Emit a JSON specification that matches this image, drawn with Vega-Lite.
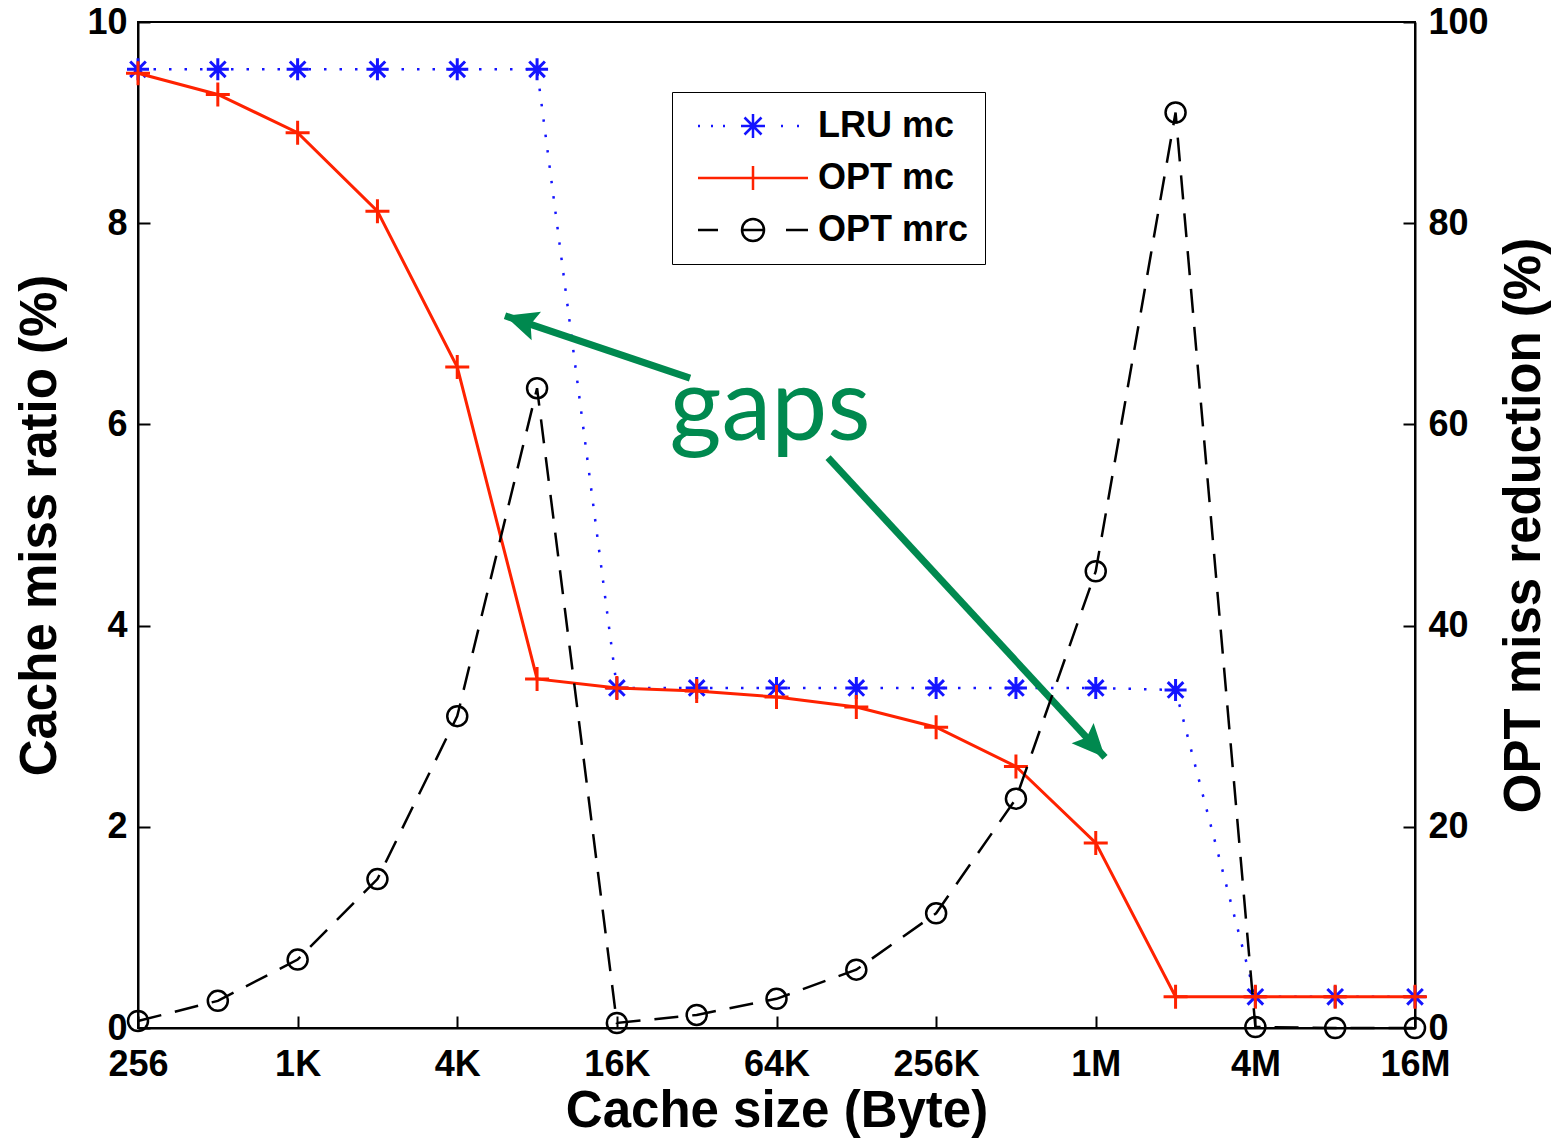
{
  "$schema": "https://vega.github.io/schema/vega-lite/v6.json",
  "width": 1277,
  "height": 1006,
  "autosize": {"type": "none"},
  "padding": {"left": 138, "top": 22, "right": 138, "bottom": 111},
  "background": "white",
  "config": {
    "view": {"stroke": "#000", "strokeWidth": 2},
    "font": "Liberation Sans",
    "axis": {
      "domainColor": "#000", "domainWidth": 2,
      "tickColor": "#000", "tickWidth": 2, "tickSize": -12,
      "labelFont": "Liberation Sans", "labelFontWeight": "bold", "labelFontSize": 36, "labelColor": "#000",
      "titleFont": "Liberation Sans", "titleFontWeight": "bold", "titleFontSize": 51, "titleColor": "#000",
      "grid": false
    }
  },
  "datasets": {
    "curves": [
      {"size": 256, "lru": 9.53, "opt": 9.49, "mrc": 0.7},
      {"size": 512, "lru": 9.53, "opt": 9.28, "mrc": 2.7},
      {"size": 1024, "lru": 9.53, "opt": 8.9, "mrc": 6.8},
      {"size": 2048, "lru": 9.53, "opt": 8.12, "mrc": 14.8},
      {"size": 4096, "lru": 9.53, "opt": 6.57, "mrc": 31.0},
      {"size": 8192, "lru": 9.53, "opt": 3.47, "mrc": 63.6},
      {"size": 16384, "lru": 3.38, "opt": 3.38, "mrc": 0.5},
      {"size": 32768, "lru": 3.38, "opt": 3.35, "mrc": 1.3},
      {"size": 65536, "lru": 3.38, "opt": 3.29, "mrc": 2.9},
      {"size": 131072, "lru": 3.38, "opt": 3.19, "mrc": 5.8},
      {"size": 262144, "lru": 3.38, "opt": 2.99, "mrc": 11.4},
      {"size": 524288, "lru": 3.38, "opt": 2.6, "mrc": 22.8},
      {"size": 1048576, "lru": 3.38, "opt": 1.84, "mrc": 45.4},
      {"size": 2097152, "lru": 3.36, "opt": 0.31, "mrc": 91.0},
      {"size": 4194304, "lru": 0.31, "opt": 0.31, "mrc": 0.1},
      {"size": 8388608, "lru": 0.31, "opt": 0.31, "mrc": 0},
      {"size": 16777216, "lru": 0.31, "opt": 0.31, "mrc": 0}
    ],
    "arrows": [
      {"id": "a", "xs": 30925, "ys": 6.46, "xe": 6200, "ye": 7.08},
      {"id": "b", "xs": 102550, "ys": 5.67, "xe": 1136400, "ye": 2.69}
    ],
    "notes": [
      {"label": "gaps", "xs": 61960, "ys": 5.845}
    ],
    "keys": [
      {"series": "LRU mc"},
      {"series": "OPT mc"},
      {"series": "OPT mrc"}
    ]
  },
  "encoding": {
    "x": {
      "field": "size", "type": "quantitative",
      "scale": {"type": "log", "base": 2, "domain": [256, 16777216], "nice": false},
      "axis": {
        "values": [256, 1024, 4096, 16384, 65536, 262144, 1048576, 4194304, 16777216],
        "labelExpr": "datum.value >= 1048576 ? (datum.value/1048576) + 'M' : datum.value >= 1024 ? (datum.value/1024) + 'K' : '' + datum.value",
        "labelFlush": false, "labelOverlap": false, "labelPadding": 31, "titlePadding": 4
      },
      "title": "Cache size (Byte)"
    }
  },
  "layer": [
    {
      "encoding": {
        "y": {"type": "quantitative",
          "scale": {"domain": [0, 10], "nice": false},
          "axis": {"values": [0, 2, 4, 6, 8, 10], "labelPadding": 23, "titlePadding": 20},
          "title": "Cache miss ratio (%)"}
      },
      "layer": [
        {
          "data": {"name": "curves"},
          "mark": {"type": "line", "color": "#1414ff", "strokeWidth": 2.5, "strokeDash": [2.5, 13]},
          "encoding": {"y": {"field": "lru"}}
        },
        {
          "data": {"name": "curves"},
          "mark": {"type": "point", "shape": "M-1,0L1,0M0,-1L0,1M-0.71,-0.71L0.71,0.71M-0.71,0.71L0.71,-0.71", "size": 484, "filled": false, "color": "#1414ff", "strokeWidth": 3, "opacity": 1},
          "encoding": {"y": {"field": "lru"}}
        },
        {
          "data": {"name": "curves"},
          "mark": {"type": "line", "color": "#ff2200", "strokeWidth": 3},
          "encoding": {"y": {"field": "opt"}}
        },
        {
          "data": {"name": "curves"},
          "mark": {"type": "point", "shape": "M-1,0L1,0M0,-1L0,1", "size": 576, "filled": false, "color": "#ff2200", "strokeWidth": 3, "opacity": 1},
          "encoding": {"y": {"field": "opt"}}
        },
        {
          "data": {"name": "arrows"},
          "mark": {"type": "rule", "color": "#00894f", "strokeWidth": 7},
          "encoding": {
            "x": {"field": "xs", "type": "quantitative"},
            "y": {"field": "ys"},
            "x2": {"field": "xe"},
            "y2": {"field": "ye"}
          }
        },
        {
          "data": {"name": "arrows"},
          "transform": [{"filter": "datum.id == 'a'"}],
          "mark": {"type": "point", "shape": "M0,0L-1,2.2L0,1.8L1,2.2Z", "size": 900, "filled": true, "color": "#00894f", "opacity": 1, "angle": 288.2},
          "encoding": {"x": {"field": "xe", "type": "quantitative"}, "y": {"field": "ye"}}
        },
        {
          "data": {"name": "arrows"},
          "transform": [{"filter": "datum.id == 'b'"}],
          "mark": {"type": "point", "shape": "M0,0L-1,2.2L0,1.8L1,2.2Z", "size": 900, "filled": true, "color": "#00894f", "opacity": 1, "angle": 137.2},
          "encoding": {"x": {"field": "xe", "type": "quantitative"}, "y": {"field": "ye"}}
        },
        {
          "data": {"name": "notes"},
          "mark": {"type": "text", "font": "Lato", "fontSize": 100, "color": "#00894f", "align": "center", "baseline": "alphabetic"},
          "encoding": {
            "x": {"field": "xs", "type": "quantitative"},
            "y": {"field": "ys"},
            "text": {"field": "label"}
          }
        },
        {
          "data": {"name": "keys"},
          "transform": [{"filter": "false"}],
          "mark": {"type": "point", "filled": false, "strokeWidth": 2.5},
          "encoding": {
            "shape": {"field": "series", "type": "nominal",
              "scale": {"domain": ["LRU mc", "OPT mc", "OPT mrc"],
                "range": [
                  "M-0.8,0L-0.6,0M0.5,0L0.7,0M1.7,0L1.9,0M7.5,0L7.7,0M9.1,0L9.3,0M3.5,0L5.9,0M4.7,-1.2L4.7,1.2M3.85,-0.85L5.55,0.85M3.85,0.85L5.55,-0.85",
                  "M-0.8,0L10.2,0M4.7,-1.2L4.7,1.2",
                  "M-0.8,0L1.2,0M8,0L10.2,0M3.6,0A1.1,1.1 0 1,0 5.8,0A1.1,1.1 0 1,0 3.6,0M3.6,0L5.8,0"
                ]},
              "legend": {"orient": "none", "legendX": 534, "legendY": 70, "title": null, "padding": 16, "rowPadding": 16,
                "symbolSize": 400, "symbolStrokeWidth": 2.5, "symbolOpacity": 1,
                "labelFont": "Liberation Sans", "labelFontSize": 36, "labelFontWeight": "bold", "labelColor": "#000",
                "labelOffset": 94, "labelLimit": 400, "strokeColor": "#000", "fillColor": "#fff"}
            },
            "color": {"field": "series", "type": "nominal",
              "scale": {"domain": ["LRU mc", "OPT mc", "OPT mrc"], "range": ["#1414ff", "#ff2200", "#000000"]},
              "legend": {"orient": "none", "legendX": 534, "legendY": 70, "title": null, "padding": 16, "rowPadding": 16,
                "symbolSize": 400, "symbolStrokeWidth": 2.5, "symbolOpacity": 1,
                "labelFont": "Liberation Sans", "labelFontSize": 36, "labelFontWeight": "bold", "labelColor": "#000",
                "labelOffset": 94, "labelLimit": 400, "strokeColor": "#000", "fillColor": "#fff"}
            }
          }
        }
      ]
    },
    {
      "data": {"name": "curves"},
      "encoding": {
        "y": {"field": "mrc", "type": "quantitative",
          "scale": {"domain": [0, 100], "nice": false},
          "axis": {"orient": "right", "values": [0, 20, 40, 60, 80, 100], "labelPadding": 25, "titlePadding": 11, "titleAngle": 270, "titleBaseline": "top"},
          "title": "OPT miss reduction (%)"}
      },
      "layer": [
        {
          "mark": {"type": "line", "color": "#000", "strokeWidth": 2.5, "strokeDash": [24, 14]}
        },
        {
          "mark": {"type": "point", "shape": "circle", "size": 400, "filled": false, "color": "#000", "strokeWidth": 2.5, "opacity": 1}
        }
      ]
    }
  ],
  "resolve": {"scale": {"y": "independent"}}
}
